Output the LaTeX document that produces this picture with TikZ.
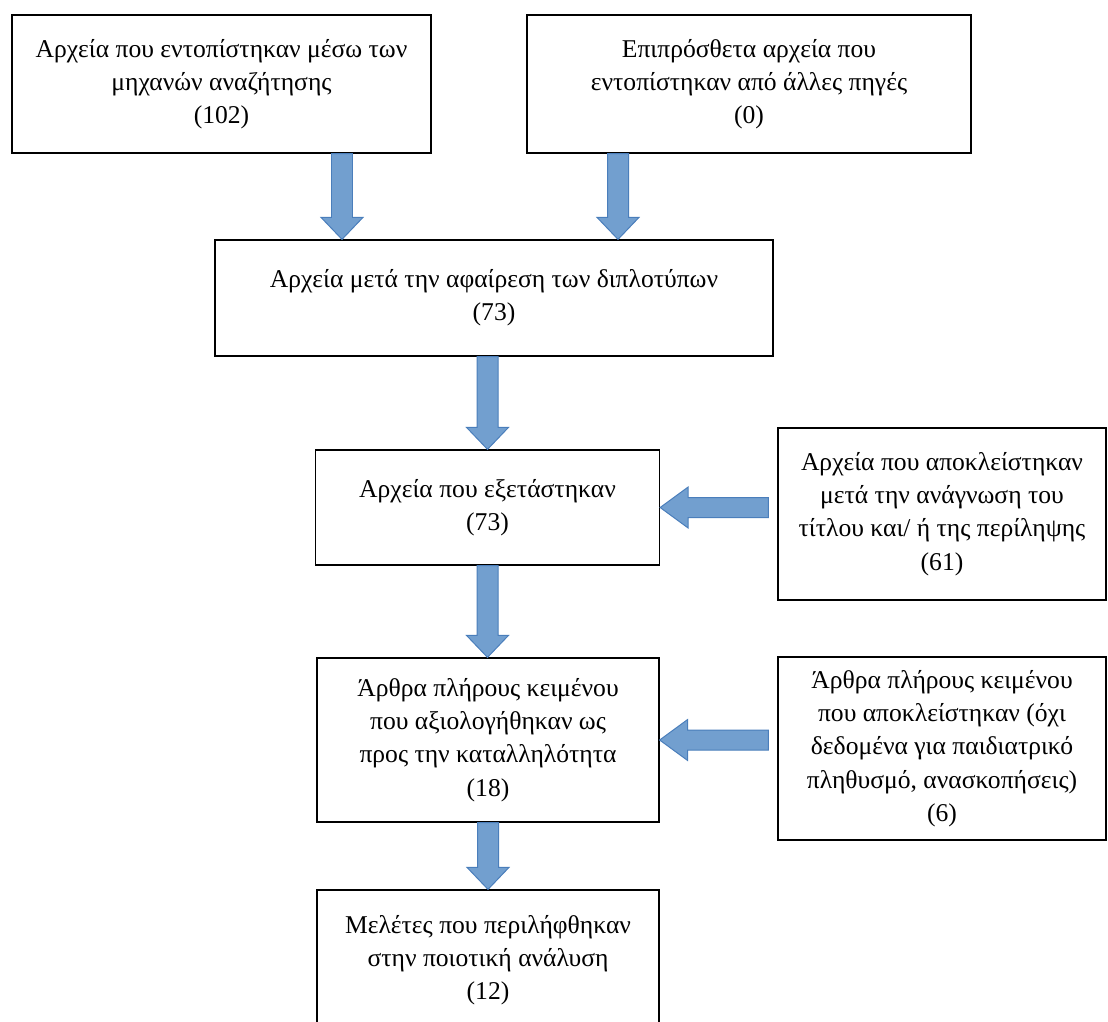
\documentclass[tikz,border=0pt]{standalone}
\usepackage{fontspec}
\setmainfont{Liberation Serif}
\usepackage{xcolor}
\usetikzlibrary{calc}

\definecolor{arrfill}{RGB}{114,159,207}
\definecolor{arrline}{RGB}{74,126,187}
\newcommand{\px}{0.025cm}

% block arrows: #1 tail, #2 tip
\newcommand{\downblk}[2]{%
  \draw[blk] ($#1+(-10.5,0)$) -- ($#2+(-10.5,-22)$) -- ($#2+(-21,-22)$) -- #2
    -- ($#2+(21,-22)$) -- ($#2+(10.5,-22)$) -- ($#1+(10.5,0)$) -- cycle;}
\newcommand{\leftblk}[2]{%
  \draw[blk] ($#1+(0,-10)$) -- ($#2+(28,-10)$) -- ($#2+(28,-20.5)$) -- #2
    -- ($#2+(28,20.5)$) -- ($#2+(28,10)$) -- ($#1+(0,10)$) -- cycle;}

\begin{document}
\begin{tikzpicture}[x=0.025cm,y=-0.025cm,
    box/.style={draw, line width=0.9pt, align=center, inner sep=0pt,
      font=\fontsize{18.2}{23.6}\selectfont},
    blk/.style={fill=arrfill, draw=arrline, line width=0.7pt, line join=miter}]
    \useasboundingbox (0,0) rectangle (1108,1021);

    \node [box, minimum width=419*\px, minimum height=138*\px] (b1) at (221.5,84)
      {Αρχεία που εντοπίστηκαν μέσω των\\ μηχανών αναζήτησης\\ (102)};
    \node [box, minimum width=444*\px, minimum height=138*\px] (b2) at (749,84)
      {Επιπρόσθετα αρχεία που\\ εντοπίστηκαν από άλλες πηγές\\ (0)};
    \node [box, minimum width=558*\px, minimum height=116*\px] (b3) at (494,298)
      {Αρχεία μετά την αφαίρεση των διπλοτύπων\\ (73)};
    \node [box, minimum width=344*\px, minimum height=115*\px] (b4) at (487.5,507.5)
      {Αρχεία που εξετάστηκαν\\ (73)};
    \node [box, minimum width=328*\px, minimum height=172*\px] (b5) at (942,514)
      {Αρχεία που αποκλείστηκαν\\ μετά την ανάγνωση του\\ τίτλου και/ ή της περίληψης\\ (61)};
    \node [box, minimum width=342*\px, minimum height=164*\px] (b6) at (488,740)
      {Άρθρα πλήρους κειμένου\\ που αξιολογήθηκαν ως\\ προς την καταλληλότητα\\ (18)};
    \node [box, minimum width=328*\px, minimum height=183*\px] (b7) at (942,748.5)
      {Άρθρα πλήρους κειμένου\\ που αποκλείστηκαν (όχι\\ δεδομένα για παιδιατρικό\\ πληθυσμό, ανασκοπήσεις)\\ (6)};
    \node [box, minimum width=342*\px, minimum height=140*\px] (b8) at (488,960)
      {Μελέτες που περιλήφθηκαν\\ στην ποιοτική ανάλυση\\ (12)};

    \downblk{($(b1.south)+(120.5,0)$)}{($(b3.north)+(-152,0)$)}
    \downblk{($(b2.south)+(-131,0)$)}{($(b3.north)+(124,0)$)}
    \downblk{(b3.south -| b4.north)}{(b4.north)}
    \downblk{(b4.south)}{(b4.south |- b6.north)}
    \downblk{(b6.south)}{(b6.south |- b8.north)}
    \leftblk{($(b4.east -| b5.west)+(-9,0)$)}{(b4.east)}
    \leftblk{($(b6.east -| b7.west)+(-9,0)$)}{(b6.east)}
\end{tikzpicture}
\end{document}
